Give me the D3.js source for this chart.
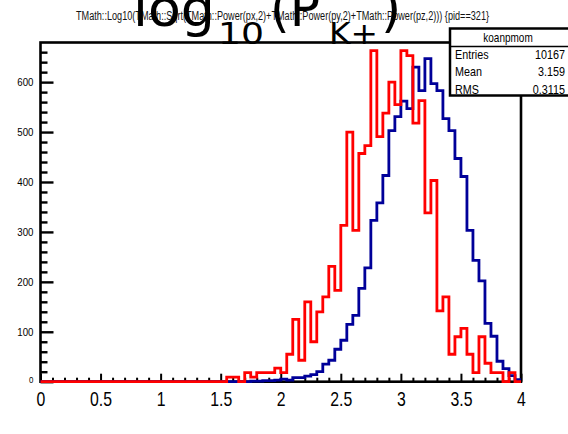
<!DOCTYPE html>
<html><head><meta charset="utf-8">
<script src="https://cdn.jsdelivr.net/npm/d3@7/dist/d3.min.js"></script>
<style>html,body{margin:0;padding:0;background:#fff;} svg{display:block;}</style>
</head><body>
<svg id="c" width="568" height="434"></svg>
<script>
// ---------- data ----------
const xDomain = [0, 4];
const nBins = 80;
const blueCounts = [
  0,0,0,0,0,0,0,0,0,0, 0,0,0,0,0,0,0,0,0,0,
  0,0,0,0,0,0,0,0,0,0, 0,0,0,0,0,1,1,2,2,3,
  5,3,8,8,11,14,20,35,43,65, 83,115,133,187,228,323,358,413,503,531,
  562,547,630,583,647,597,583,527,503,447, 411,303,243,202,117,91,41,26,12,4
];
const redCounts = [
  0,0,0,0,0,0,0,0,0,0, 0,0,0,0,0,0,0,0,0,0,
  0,0,0,0,0,0,0,0,0,0, 0,9,9,0,18,9,18,18,18,27,
  18,55,125,43,160,80,140,170,231,183, 313,500,303,457,473,663,491,538,600,555,
  663,653,518,563,338,403,142,170,55,90, 107,55,18,90,37,18,18,0,18,0
];
const xTickValues = [0, 0.5, 1, 1.5, 2, 2.5, 3, 3.5, 4];
const xTickLabels = ["0", "0.5", "1", "1.5", "2", "2.5", "3", "3.5", "4"];
const yTickValues = [0, 100, 200, 300, 400, 500, 600];
const yTickLabels = ["0", "100", "200", "300", "400", "500", "600"];
const histName = "koanpmom";
const statsLabels = ["Entries", "Mean", "RMS"];
const statsValues = ["10167", "3.159", "0.3115"];
const subTitle = "TMath::Log10(TMath::Sqrt(TMath::Power(px,2)+TMath::Power(py,2)+TMath::Power(pz,2))) {pid==321}";

// ---------- layout ----------
const svg = d3.select("#c");
const L = 40.5, R = 521, T = 42.5, B = 381.7;
const yMax = 1.05 * d3.max(blueCounts);
const x = d3.scaleLinear().domain(xDomain).range([L, R]);
const y = d3.scaleLinear().domain([0, yMax]).range([B, T]);
const binW = (xDomain[1] - xDomain[0]) / nBins;
const sans = "'Liberation Sans',Arial,sans-serif";

svg.append("rect").attr("width", 568).attr("height", 434).attr("fill", "#fff");

const minorX = d3.range(0, 40.5).map(i => i * 0.1).filter(v => Math.abs(v * 2 - Math.round(v * 2)) > 1e-6);
const minorY = d3.range(0, 34).map(i => i * 20).filter(v => v % 100 !== 0);

// x axis (ticks inward)
const gx = svg.append("g").attr("transform", `translate(0,${B})`)
  .call(d3.axisBottom(x).tickValues(xTickValues).tickSize(-8).tickPadding(10)
        .tickFormat((d, i) => xTickLabels[i]));
gx.select(".domain").remove();
gx.selectAll("line").attr("stroke", "#000").attr("stroke-width", 2);
gx.selectAll("text").attr("font-family", sans).attr("font-size", 20).attr("fill", "#000")
  .attr("transform", "scale(0.79,1)");

const gxm = svg.append("g").attr("transform", `translate(0,${B})`)
  .call(d3.axisBottom(x).tickValues(minorX).tickSize(-4).tickFormat(""));
gxm.select(".domain").remove();
gxm.selectAll("line").attr("stroke", "#000").attr("stroke-width", 2);

// y axis
const gy = svg.append("g").attr("transform", `translate(${L},0)`)
  .call(d3.axisLeft(y).tickValues(yTickValues).tickSize(-13).tickPadding(8)
        .tickFormat((d, i) => yTickLabels[i]));
gy.select(".domain").remove();
gy.selectAll("line").attr("stroke", "#000").attr("stroke-width", 2.4);
gy.selectAll("text").attr("font-family", sans).attr("font-size", 11).attr("fill", "#000")
  .attr("transform", "scale(0.88,1)");
gy.selectAll(".tick").filter(d => d === 0).select("text").attr("font-size", 9).attr("dy", "0.1em");

const gym = svg.append("g").attr("transform", `translate(${L},0)`)
  .call(d3.axisLeft(y).tickValues(minorY).tickSize(-7).tickFormat(""));
gym.select(".domain").remove();
gym.selectAll("line").attr("stroke", "#000").attr("stroke-width", 2.4);

// frame
svg.append("rect").attr("x", L).attr("y", T).attr("width", R - L).attr("height", B - T)
  .attr("fill", "none").attr("stroke", "#000").attr("stroke-width", 2.6);

// histograms
function histPoints(counts) {
  const pts = [];
  counts.forEach((v, i) => {
    const lo = xDomain[0] + i * binW, hi = lo + binW;
    pts.push([lo, v], [hi, v]);
  });
  return pts;
}
const line = d3.line().x(d => x(d[0])).y(d => y(d[1]));
svg.append("path").attr("d", line(histPoints(blueCounts)))
  .attr("fill", "none").attr("stroke", "#000099").attr("stroke-width", 2.8).attr("stroke-linejoin", "miter");
svg.append("path").attr("d", line(histPoints(redCounts)))
  .attr("fill", "none").attr("stroke", "#ff0000").attr("stroke-width", 2.8).attr("stroke-linejoin", "miter");

// stats box
const sb = svg.append("g");
sb.append("rect").attr("x", 450).attr("y", 28.5).attr("width", 130).attr("height", 67)
  .attr("fill", "#fff").attr("stroke", "#000").attr("stroke-width", 2.5);
sb.append("line").attr("x1", 450).attr("x2", 580).attr("y1", 46.5).attr("y2", 46.5)
  .attr("stroke", "#000").attr("stroke-width", 1.5);
sb.append("text").attr("transform", "translate(508,41.5) scale(0.8,1)").attr("text-anchor", "middle")
  .attr("font-family", sans).attr("font-size", 12.5).text(histName);
const rowY = [59, 76, 93.5];
statsLabels.forEach((s, i) => {
  sb.append("text").attr("transform", `translate(455,${rowY[i]}) scale(0.83,1)`)
    .attr("font-family", sans).attr("font-size", 13).text(s);
  sb.append("text").attr("transform", `translate(565,${rowY[i]}) scale(0.83,1)`)
    .attr("text-anchor", "end").attr("font-family", sans).attr("font-size", 13).text(statsValues[i]);
});

// small title
svg.append("text").attr("x", 76).attr("y", 20).attr("font-family", sans)
  .attr("font-size", 12).attr("fill", "#111")
  .attr("textLength", 413).attr("lengthAdjust", "spacingAndGlyphs").text(subTitle);

// big title  log_{10}(P_{K+})
const big = svg.append("g").attr("font-family", "'DejaVu Sans',sans-serif").attr("fill", "#000");
big.append("text").attr("x", 133).attr("y", 26).attr("font-size", 52)
  .attr("textLength", 82).attr("lengthAdjust", "spacingAndGlyphs").text("log");
big.append("text").attr("x", 218).attr("y", 44).attr("font-size", 31)
  .attr("textLength", 46).attr("lengthAdjust", "spacingAndGlyphs").text("10");
big.append("text").attr("x", 270).attr("y", 26).attr("font-size", 52)
  .attr("textLength", 50).attr("lengthAdjust", "spacingAndGlyphs").text("(P");
big.append("text").attr("x", 329).attr("y", 44).attr("font-size", 30)
  .attr("textLength", 49).attr("lengthAdjust", "spacingAndGlyphs").text("K+");
big.append("text").attr("x", 381).attr("y", 26).attr("font-size", 52).text(")");
</script>
</body></html>
